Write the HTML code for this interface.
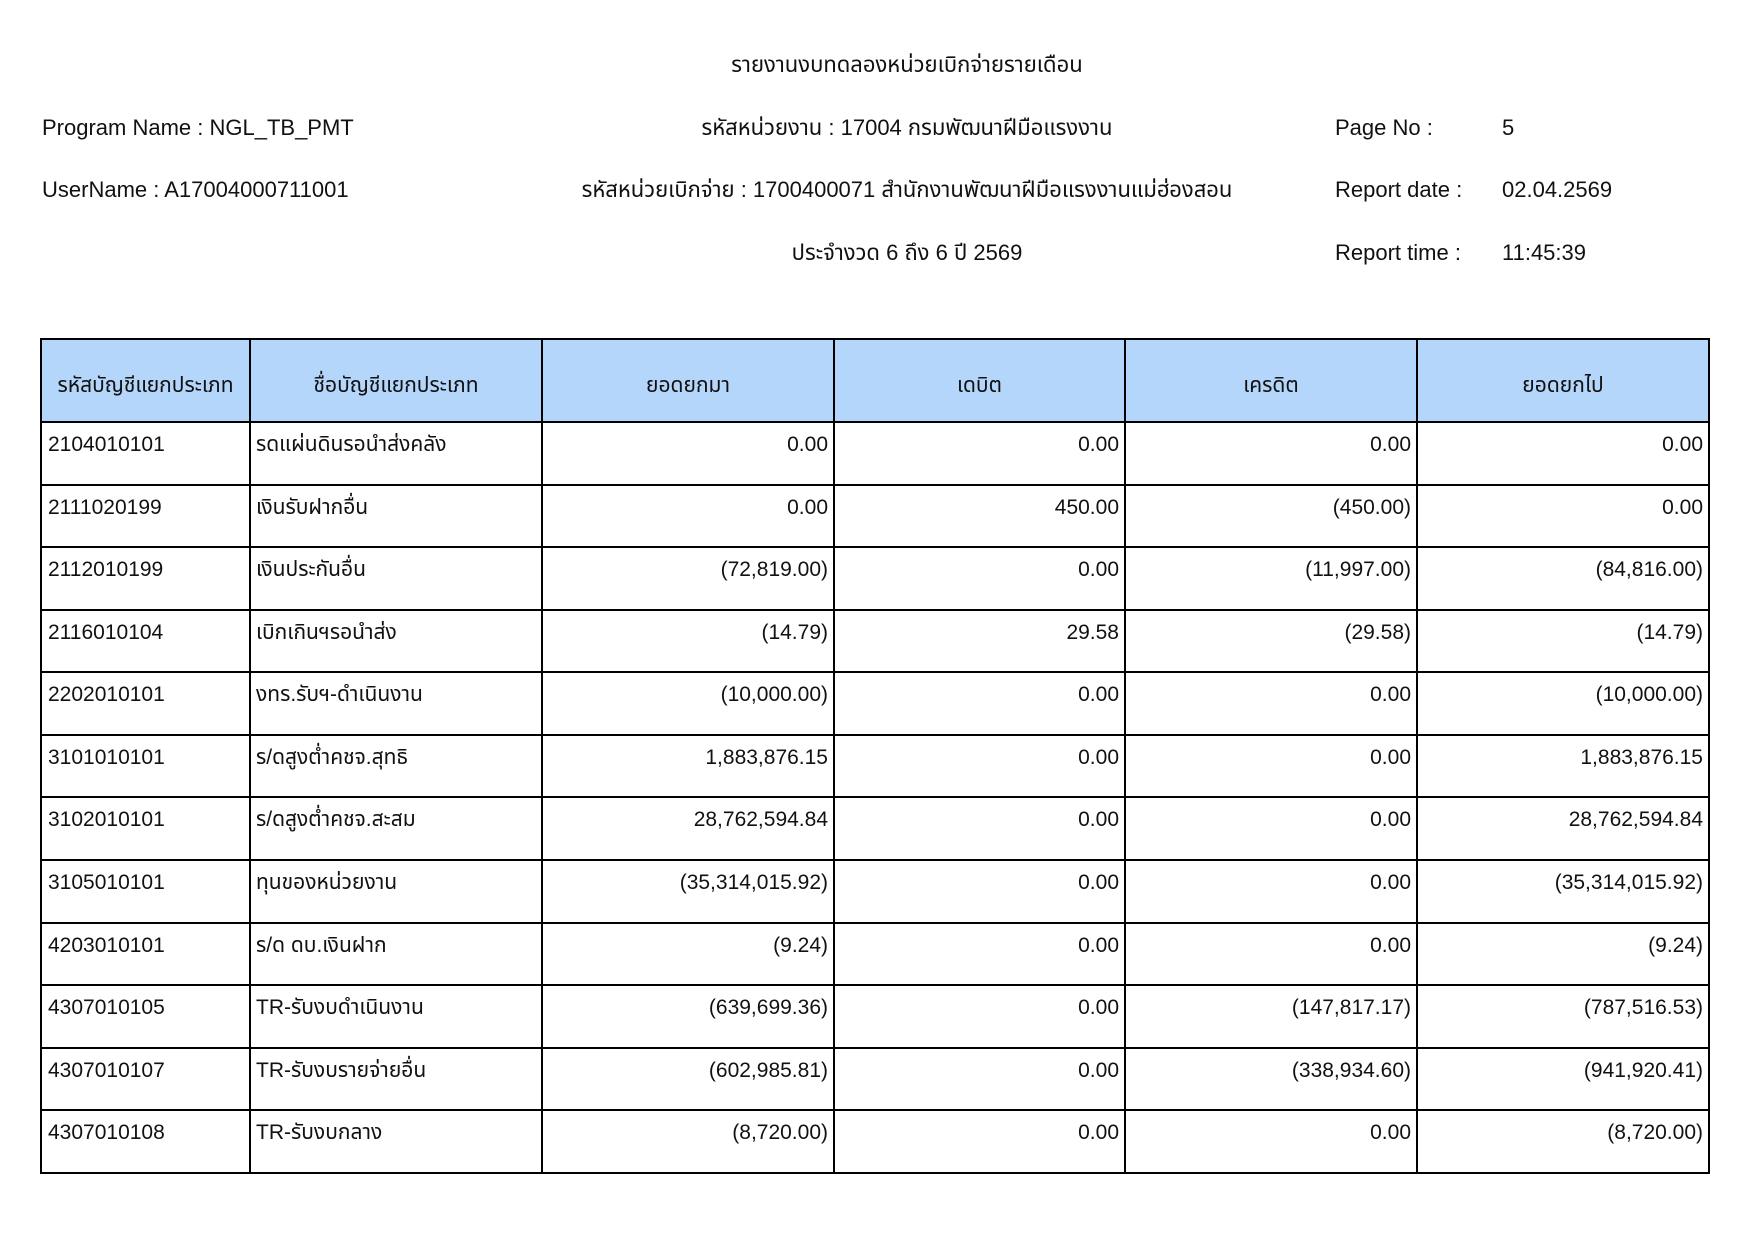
<!DOCTYPE html>
<html>
<head>
<meta charset="utf-8">
<style>
  html, body { margin:0; padding:0; background:#fff; }
  body { width:1755px; height:1240px; position:relative; overflow:hidden;
         font-family:"Liberation Sans","Noto Sans Thai","Loma","Garuda","DejaVu Sans",sans-serif; color:#111; }
  .t { position:absolute; white-space:nowrap; }
  .h { font-size:22px; line-height:26px; }
  .c { left:507px; width:800px; text-align:center; }
  .hl { position:absolute; left:40px; width:1670px; height:2px; background:#000; }
  .vl { position:absolute; top:338px; height:836px; width:2px; background:#000; }
  .hdr { position:absolute; left:41px; top:339px; width:1668px; height:83px; background:#b5d6fb; }
  .cell { position:absolute; font-size:21px; line-height:24px; white-space:nowrap; }
  .hc { text-align:center; }
  .r { text-align:right; }
  .c3 { right:927px; } .c4 { right:636px; } .c5 { right:344px; } .c6 { right:52px; }
</style>
</head>
<body>

<!-- top header -->
<div class="t h c" style="top:52px;">รายงานงบทดลองหน่วยเบิกจ่ายรายเดือน</div>
<div class="t h" style="left:42px; top:115px;">Program Name : NGL_TB_PMT</div>
<div class="t h c" style="top:115px;">รหัสหน่วยงาน : 17004 กรมพัฒนาฝีมือแรงงาน</div>
<div class="t h" style="left:1335px; top:115px;">Page No :</div>
<div class="t h" style="left:1502px; top:115px;">5</div>

<div class="t h" style="left:42px; top:177px;">UserName : A17004000711001</div>
<div class="t h c" style="top:177px;">รหัสหน่วยเบิกจ่าย : 1700400071 สำนักงานพัฒนาฝีมือแรงงานแม่ฮ่องสอน</div>
<div class="t h" style="left:1335px; top:177px;">Report date :</div>
<div class="t h" style="left:1502px; top:177px;">02.04.2569</div>

<div class="t h c" style="top:240px;">ประจำงวด 6 ถึง 6 ปี 2569</div>
<div class="t h" style="left:1335px; top:240px;">Report time :</div>
<div class="t h" style="left:1502px; top:240px;">11:45:39</div>

<!-- table header background -->
<div class="hdr"></div>

<!-- horizontal lines -->
<div class="hl" style="top:338px;"></div>
<div class="hl" style="top:421px;"></div>
<div class="hl" style="top:484px;"></div>
<div class="hl" style="top:546px;"></div>
<div class="hl" style="top:609px;"></div>
<div class="hl" style="top:671px;"></div>
<div class="hl" style="top:734px;"></div>
<div class="hl" style="top:796px;"></div>
<div class="hl" style="top:859px;"></div>
<div class="hl" style="top:922px;"></div>
<div class="hl" style="top:984px;"></div>
<div class="hl" style="top:1047px;"></div>
<div class="hl" style="top:1109px;"></div>
<div class="hl" style="top:1172px;"></div>

<!-- vertical lines -->
<div class="vl" style="left:40px;"></div>
<div class="vl" style="left:249px;"></div>
<div class="vl" style="left:541px;"></div>
<div class="vl" style="left:833px;"></div>
<div class="vl" style="left:1124px;"></div>
<div class="vl" style="left:1416px;"></div>
<div class="vl" style="left:1708px;"></div>

<!-- header texts -->
<div class="cell hc" style="left:41px; width:209px; top:374px;">รหัสบัญชีแยกประเภท</div>
<div class="cell hc" style="left:250px; width:292px; top:374px;">ชื่อบัญชีแยกประเภท</div>
<div class="cell hc" style="left:542px; width:292px; top:374px;">ยอดยกมา</div>
<div class="cell hc" style="left:834px; width:291px; top:374px;">เดบิต</div>
<div class="cell hc" style="left:1125px; width:292px; top:374px;">เครดิต</div>
<div class="cell hc" style="left:1417px; width:292px; top:374px;">ยอดยกไป</div>

<!-- row 1 -->
<div class="cell" style="left:48px; top:433px;">2104010101</div>
<div class="cell" style="left:256px; top:433px;">รดแผ่นดินรอนำส่งคลัง</div>
<div class="cell r c3" style="top:433px;">0.00</div>
<div class="cell r c4" style="top:433px;">0.00</div>
<div class="cell r c5" style="top:433px;">0.00</div>
<div class="cell r c6" style="top:433px;">0.00</div>

<!-- row 2 -->
<div class="cell" style="left:48px; top:496px;">2111020199</div>
<div class="cell" style="left:256px; top:496px;">เงินรับฝากอื่น</div>
<div class="cell r c3" style="top:496px;">0.00</div>
<div class="cell r c4" style="top:496px;">450.00</div>
<div class="cell r c5" style="top:496px;">(450.00)</div>
<div class="cell r c6" style="top:496px;">0.00</div>

<!-- row 3 -->
<div class="cell" style="left:48px; top:558px;">2112010199</div>
<div class="cell" style="left:256px; top:558px;">เงินประกันอื่น</div>
<div class="cell r c3" style="top:558px;">(72,819.00)</div>
<div class="cell r c4" style="top:558px;">0.00</div>
<div class="cell r c5" style="top:558px;">(11,997.00)</div>
<div class="cell r c6" style="top:558px;">(84,816.00)</div>

<!-- row 4 -->
<div class="cell" style="left:48px; top:621px;">2116010104</div>
<div class="cell" style="left:256px; top:621px;">เบิกเกินฯรอนำส่ง</div>
<div class="cell r c3" style="top:621px;">(14.79)</div>
<div class="cell r c4" style="top:621px;">29.58</div>
<div class="cell r c5" style="top:621px;">(29.58)</div>
<div class="cell r c6" style="top:621px;">(14.79)</div>

<!-- row 5 -->
<div class="cell" style="left:48px; top:683px;">2202010101</div>
<div class="cell" style="left:256px; top:683px;">งทร.รับฯ-ดำเนินงาน</div>
<div class="cell r c3" style="top:683px;">(10,000.00)</div>
<div class="cell r c4" style="top:683px;">0.00</div>
<div class="cell r c5" style="top:683px;">0.00</div>
<div class="cell r c6" style="top:683px;">(10,000.00)</div>

<!-- row 6 -->
<div class="cell" style="left:48px; top:746px;">3101010101</div>
<div class="cell" style="left:256px; top:746px;">ร/ดสูงต่ำคชจ.สุทธิ</div>
<div class="cell r c3" style="top:746px;">1,883,876.15</div>
<div class="cell r c4" style="top:746px;">0.00</div>
<div class="cell r c5" style="top:746px;">0.00</div>
<div class="cell r c6" style="top:746px;">1,883,876.15</div>

<!-- row 7 -->
<div class="cell" style="left:48px; top:808px;">3102010101</div>
<div class="cell" style="left:256px; top:808px;">ร/ดสูงต่ำคชจ.สะสม</div>
<div class="cell r c3" style="top:808px;">28,762,594.84</div>
<div class="cell r c4" style="top:808px;">0.00</div>
<div class="cell r c5" style="top:808px;">0.00</div>
<div class="cell r c6" style="top:808px;">28,762,594.84</div>

<!-- row 8 -->
<div class="cell" style="left:48px; top:871px;">3105010101</div>
<div class="cell" style="left:256px; top:871px;">ทุนของหน่วยงาน</div>
<div class="cell r c3" style="top:871px;">(35,314,015.92)</div>
<div class="cell r c4" style="top:871px;">0.00</div>
<div class="cell r c5" style="top:871px;">0.00</div>
<div class="cell r c6" style="top:871px;">(35,314,015.92)</div>

<!-- row 9 -->
<div class="cell" style="left:48px; top:934px;">4203010101</div>
<div class="cell" style="left:256px; top:934px;">ร/ด ดบ.เงินฝาก</div>
<div class="cell r c3" style="top:934px;">(9.24)</div>
<div class="cell r c4" style="top:934px;">0.00</div>
<div class="cell r c5" style="top:934px;">0.00</div>
<div class="cell r c6" style="top:934px;">(9.24)</div>

<!-- row 10 -->
<div class="cell" style="left:48px; top:996px;">4307010105</div>
<div class="cell" style="left:256px; top:996px;">TR-รับงบดำเนินงาน</div>
<div class="cell r c3" style="top:996px;">(639,699.36)</div>
<div class="cell r c4" style="top:996px;">0.00</div>
<div class="cell r c5" style="top:996px;">(147,817.17)</div>
<div class="cell r c6" style="top:996px;">(787,516.53)</div>

<!-- row 11 -->
<div class="cell" style="left:48px; top:1059px;">4307010107</div>
<div class="cell" style="left:256px; top:1059px;">TR-รับงบรายจ่ายอื่น</div>
<div class="cell r c3" style="top:1059px;">(602,985.81)</div>
<div class="cell r c4" style="top:1059px;">0.00</div>
<div class="cell r c5" style="top:1059px;">(338,934.60)</div>
<div class="cell r c6" style="top:1059px;">(941,920.41)</div>

<!-- row 12 -->
<div class="cell" style="left:48px; top:1121px;">4307010108</div>
<div class="cell" style="left:256px; top:1121px;">TR-รับงบกลาง</div>
<div class="cell r c3" style="top:1121px;">(8,720.00)</div>
<div class="cell r c4" style="top:1121px;">0.00</div>
<div class="cell r c5" style="top:1121px;">0.00</div>
<div class="cell r c6" style="top:1121px;">(8,720.00)</div>

</body>
</html>
